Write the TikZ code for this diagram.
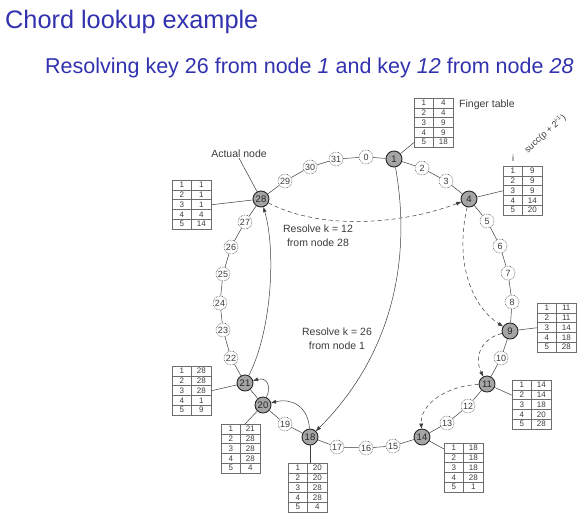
\documentclass[tikz,border=0pt]{standalone}
\usepackage{fontspec}
\setmainfont{Liberation Sans}
\usetikzlibrary{arrows.meta,calc}
\definecolor{titleblue}{RGB}{50,50,175}
\definecolor{ink}{RGB}{60,60,60}
\definecolor{nodegray}{RGB}{165,165,165}
\definecolor{tabgray}{RGB}{110,110,110}
\newcommand\ftable[4]{%
  \begin{scope}[shift={(#2,#3)}]
    \node[tablebox, anchor=north west] (#1) at (0,0) {};
    \foreach \k in {1,...,4} \draw[tabline] (0,\k*9.8) -- (39,\k*9.8);
    \draw[tabline] (19.5,0) -- (19.5,49);
    \foreach \v [count=\k] in {#4} {
      \node[cell] at (9.75,\k*9.8-4.9) {\k};
      \node[cell] at (29.25,\k*9.8-4.9) {\v};
    }
  \end{scope}}
\begin{document}
\begin{tikzpicture}[x=1pt,y=-1pt,
  ring/.style={circle, draw=ink, dash pattern=on 0.7pt off 0.9pt, fill=white, minimum size=14pt, inner sep=0pt, font=\fontsize{9}{9}\selectfont, text=ink, line width=0.5pt},
  real/.style={circle, draw=black!85, fill=nodegray, line width=0.9pt, minimum size=16pt, inner sep=0pt, font=\fontsize{9.5}{9.5}\selectfont, text=black!85},
  ringline/.style={draw=ink, line width=0.5pt},
  tablebox/.style={draw=tabgray, line width=0.5pt, minimum width=39pt, minimum height=49pt, inner sep=0pt},
  tabline/.style={draw=tabgray, line width=0.5pt},
  cell/.style={inner sep=0pt, font=\fontsize{8}{8}\selectfont, text=ink},
  lbl/.style={inner sep=0pt, font=\fontsize{10.5}{14}\selectfont, text=ink, align=center},
  look/.style={draw=ink, line width=0.5pt, -{Triangle[length=5pt,width=3.6pt]}},
  dlook/.style={draw=ink, line width=0.5pt, dash pattern=on 4pt off 3pt, -{Triangle[length=5pt,width=3.6pt]}},
  titletext/.style={inner sep=0pt, anchor=base west, text=titleblue}
]
\useasboundingbox[fill=white] (0,0) rectangle (585,523);

\node[titletext, font=\fontsize{25.3}{30}\selectfont] (title) at (5,28) {Chord lookup example};
\node[titletext, font=\fontsize{21.5}{26}\selectfont] (subtitle) at (45,73) {Resolving key 26 from node \textit{1} and key \textit{12} from node \textit{28}};

% ring positions
\foreach \n/\x/\y in {0/366/157, 2/422/168, 3/446/181, 5/487/221, 6/500/246, 7/508/273, 8/512/302,
  10/501/358, 12/468/406, 13/447/423, 15/393/446, 16/366/448, 17/337/447, 19/285/424,
  22/231/358, 23/223/330, 24/220/303, 25/223/274, 26/231/247, 27/245/222, 29/285/181, 30/310/167, 31/336/159}
  \node[ring] (r\n) at (\x,\y) {\n};
\foreach \n/\x/\y in {1/394/159, 4/469/199, 9/510/331, 11/487/384, 14/422/437, 18/310/437, 20/263/405, 21/245/383, 28/261/199}
  \node[real] (r\n) at (\x,\y) {\n};

\foreach \i in {0,...,31}{
  \pgfmathtruncatemacro\j{mod(\i+1,32)}
  \draw[ringline] (r\i) -- (r\j);
}

% finger tables
\ftable{t1}{414}{98}{4,4,9,9,18}
\ftable{t4}{503}{166}{9,9,9,14,20}
\ftable{t28}{172}{180}{1,1,1,4,14}
\ftable{t9}{537}{303}{11,11,14,18,28}
\ftable{t11}{512}{380}{14,14,18,20,28}
\ftable{t14}{444}{443}{18,18,18,28,1}
\ftable{t21}{172}{366}{28,28,28,1,9}
\ftable{t20}{221}{424}{21,28,28,28,4}
\ftable{t18}{288}{463}{20,20,28,28,4}

\draw[ringline] (r1) -- ([yshift=5pt]t1.south west);
\draw[ringline] (r4) -- (t4.west);
\draw[ringline] (r28) -- (t28.east);
\draw[ringline] (r9) -- (t9.west);
\draw[ringline] (r11) -- ([yshift=9.5pt]t11.west);
\draw[ringline] (r14) -- ([yshift=-6pt]t14.north west);
\draw[ringline] (r21) -- (t21.east);
\draw[ringline] (r20) -- ([xshift=24pt]t20.north west);
\draw[ringline] (r18) -- (r18 |- t18.north);

% labels
\node[lbl, anchor=west] (fingerlbl) at (459,105) {Finger table};
\node[lbl] (actual) at (239,154) {Actual node};
\draw[ringline] (actual.south) -- (r28);
\node[lbl, font=\fontsize{9}{9}\selectfont] (ilbl) at (513,158) {i};
\node[lbl, font=\fontsize{9}{9}\selectfont, rotate=42, anchor=south west] (succlbl) at (529,155) {succ(p + 2\textsuperscript{i-1})};
\node[lbl] (res12) at (318,236) {Resolve k = 12\\from node 28};
\node[lbl] (res26) at (337,339) {Resolve k = 26\\from node 1};

% lookups
\draw[look] (r1) .. controls (412,260) and (392,355) .. (r18);
\draw[look] (r21) .. controls (272,330) and (276,250) .. (r28);
\draw[look] (r20) .. controls (272,385) and (266,377) .. (r21);
\draw[look] (r18) .. controls (308,405) and (290,398) .. (r20);

\draw[dlook] (r28) .. controls (320,230) and (400,225) .. (r4);
\draw[dlook] (r4) .. controls (455,260) and (470,305) .. (r9);
\draw[dlook] (r9) .. controls (478,340) and (475,360) .. (r11);
\draw[dlook] (r11) .. controls (445,386) and (420,405) .. (r14);
\end{tikzpicture}
\end{document}
